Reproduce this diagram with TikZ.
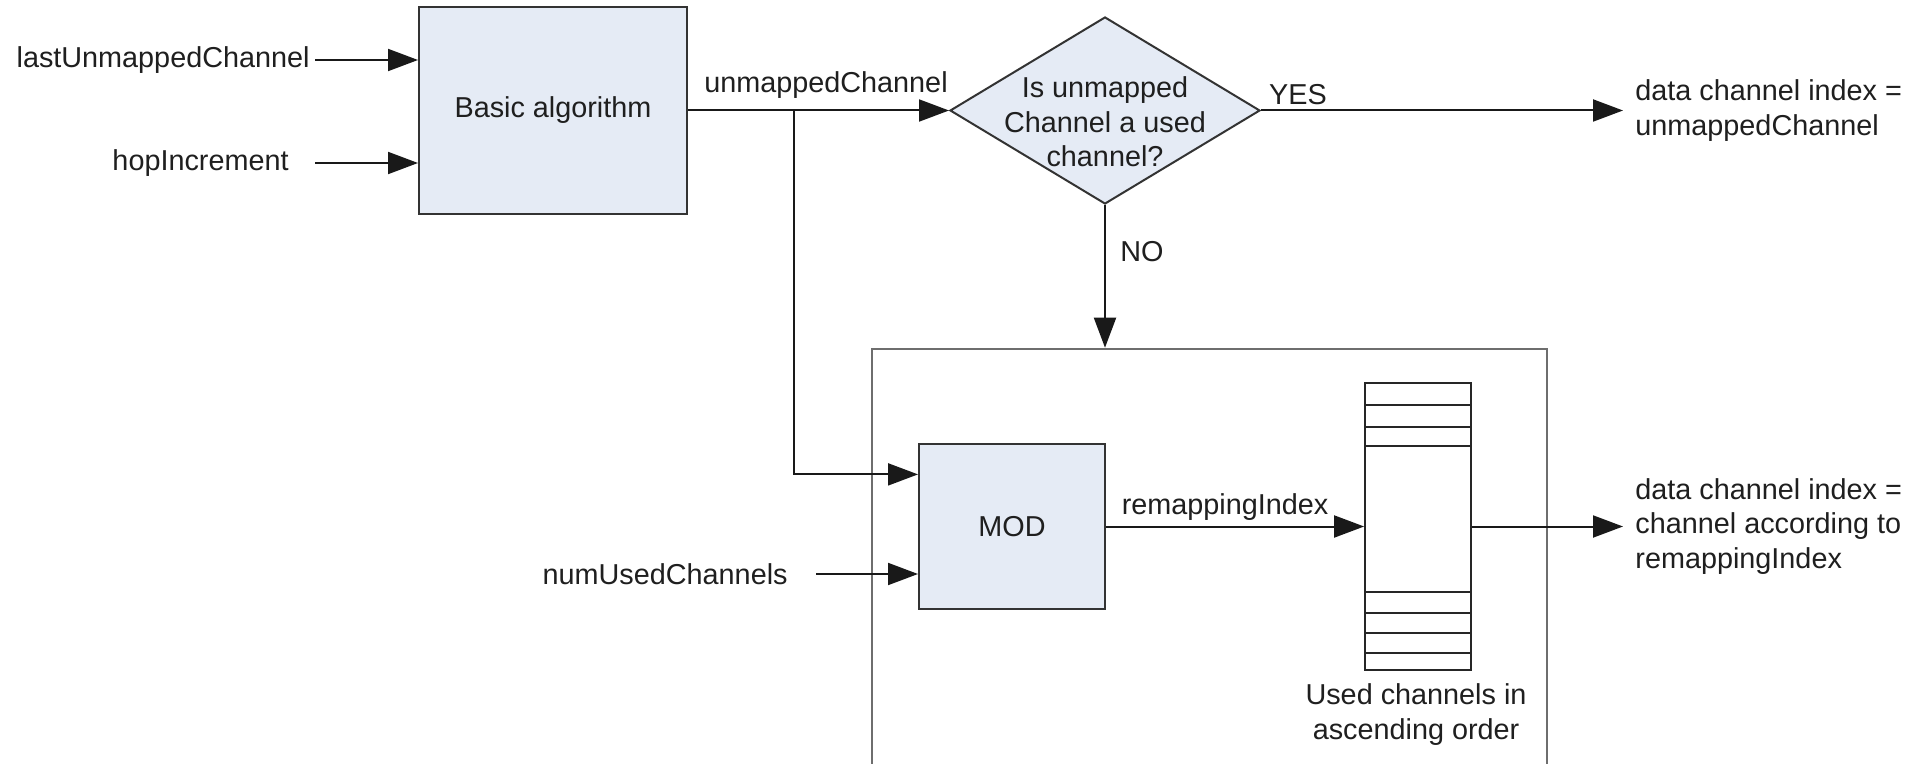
\documentclass[tikz,border=0pt]{standalone}
\usepackage{fontspec}
\setmainfont{Liberation Sans}
\usetikzlibrary{arrows.meta,shapes.geometric,calc}
\definecolor{boxfill}{HTML}{E5EBF5}
\definecolor{edgecol}{HTML}{333333}
\definecolor{grpcol}{HTML}{6E6E6E}
\begin{document}
\begin{tikzpicture}[x=0.5pt,y=-0.5pt,
  every node/.style={font=\fontsize{14.4}{17.25}\selectfont, inner sep=0pt, text=black!88},
  blk/.style={draw=edgecol, line width=1pt, fill=boxfill},
  arr/.style={draw=black!90, line width=1pt, -{Triangle[length=15pt,width=11pt]}},
  conn/.style={draw=black!90, line width=1pt},
  tline/.style={draw=black!85, line width=0.9pt},
  outtxt/.style={anchor=west, align=left, inner xsep=6pt}]
\useasboundingbox[fill=white] (0,0) rectangle (1920,764);

% outer group box (open at the bottom, cut by the picture edge)
\begin{scope}
  \clip (0,0) rectangle (1920,764);
  \node[draw=grpcol, line width=1.3pt, minimum width=337.5pt, minimum height=251pt] (grp) at (1209.5,600) {};
\end{scope}

% blocks
\node[blk, minimum width=134pt, minimum height=103.5pt] (basic) at (553,110.5) {Basic algorithm};
\node[blk, diamond, minimum width=155pt, minimum height=93.5pt] (dia) at (1105,110.5) {};
\node[align=center] (diatxt) at (1105,122) {Is unmapped\\Channel a used\\channel?};
\node[blk, minimum width=93pt, minimum height=82.5pt] (mod) at (1012,526.5) {MOD};
\node[draw=black!85, line width=0.9pt, fill=white, minimum width=53pt, minimum height=143.5pt] (tbl) at (1418,526.5) {};
\foreach \yy in {405,427,446,592,613,633,653} \draw[tline] (1365,\yy) -- (1471,\yy);

% input labels
\node[anchor=east] (lu) at (310,60) {lastUnmappedChannel};
\node[anchor=east] (hop) at (289,163) {hopIncrement};
\node[anchor=east] (num) at (788,574) {numUsedChannels};

% output labels
\node[outtxt] (out1) at (1623,110.5) {data channel index =\\unmappedChannel};
\node[outtxt] (out2) at (1623,526.5) {data channel index =\\channel according to\\remappingIndex};

% connector labels
\node (lblun) at (826,85) {unmappedChannel};
\node (lblyes) at (1298,95) {YES};
\node (lblno) at (1142,252) {NO};
\node (lblre) at (1225,507) {remappingIndex};
\node[align=center] (lbltbl) at (1416,714.5) {Used channels in\\ascending order};

% connectors
\draw[arr] ([xshift=2.5pt]lu.east) -- (lu.east -| basic.west);
\draw[arr] ([xshift=13pt]hop.east) -- (hop.east -| basic.west);
\draw[arr] (basic.east) -- (dia.west);
\coordinate (br) at (794,110.5);
\draw[arr] (br) |- ($(mod.north west)!0.188!(mod.south west)$);
\draw[arr] ([xshift=14pt]num.east) -- (num.east -| mod.west);
\draw[arr] (dia.east) -- (out1.west);
\draw[arr] (dia.south) -- (dia.south |- grp.north);
\draw[arr] (mod.east) -- (mod.east -| tbl.west);
\draw[arr] (tbl.east) -- (out2.west);
\end{tikzpicture}
\end{document}
